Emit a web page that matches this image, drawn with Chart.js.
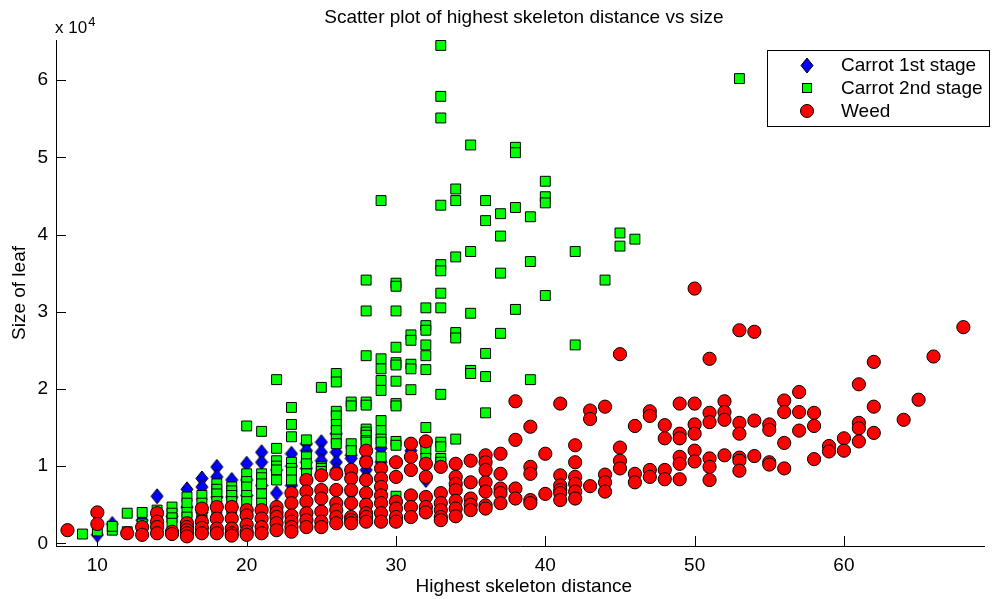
<!DOCTYPE html>
<html>
<head>
<meta charset="utf-8">
<title>Scatter plot of highest skeleton distance vs size</title>
<script src="https://cdn.jsdelivr.net/npm/chart.js@4.4.1/dist/chart.umd.min.js"></script>
<style>
    html, body { margin: 0; padding: 0; background: #fff; overflow: hidden; }
    #quadro { width: 992px; height: 599px; position: relative; }
</style>
</head>
<body>
<div id="quadro"><canvas id="grafico"></canvas></div>
<script>
const titulo = 'Scatter plot of highest skeleton distance vs size';
const rotuloX = 'Highest skeleton distance';
const rotuloY = 'Size of leaf';
const nomesSeries = ['Carrot 1st stage', 'Carrot 2nd stage', 'Weed'];
const ticksX = [10, 20, 30, 40, 50, 60];
const ticksY = [0, 10000, 20000, 30000, 40000, 50000, 60000];
const expoenteY = 4;
// limites do eixo x completo; a figura corta o lado direito
const limitesX = [7.23, 69.9];

// [distancia, tamanho]
const cenoura1 = [
    [10, 1100], [11, 2500], [13, 3000], [14, 6100], [15, 3500],
    [16, 7000], [16, 4700], [17, 8400], [17, 7300], [17, 4000],
    [18, 9900], [18, 8600], [18, 6000], [19, 8200], [19, 6000],
    [20, 10300], [20, 8200], [20, 6200], [21, 11800], [21, 10500], [21, 7500],
    [22, 6500], [22, 9500], [23, 11600], [23, 10000], [23, 7500],
    [24, 12900], [24, 12000], [24, 10500], [24, 9700],
    [25, 13100], [25, 11800], [25, 10700],
    [26, 14200], [26, 11800], [26, 10500], [26, 9500],
    [27, 11400], [27, 11000], [27, 9000], [27, 6500],
    [28, 11000], [28, 9500], [28, 8600], [28, 8200],
    [29, 12300], [29, 10500], [31, 12000], [32, 8200]
];

const cenoura2 = [
    [9, 1200], [10, 1600], [11, 1700], [11, 2200], [12, 3900], [12, 1500],
    [13, 4000], [13, 2500], [14, 4300], [14, 3000],
    [15, 4700], [15, 3900], [15, 3300], [15, 2600],
    [16, 6000], [16, 5200], [16, 4000], [16, 3400],
    [17, 6200], [17, 5200], [17, 4000], [17, 3000],
    [18, 7700], [18, 7000], [18, 6400], [18, 5400], [18, 4200],
    [19, 7300], [19, 6800], [19, 6200], [19, 5400], [19, 4500],
    [20, 15200], [20, 9000], [20, 8000], [20, 7300], [20, 6200], [20, 5400],
    [21, 14500], [21, 9000], [21, 8500], [21, 7700], [21, 6400], [21, 5200],
    [22, 21200], [22, 12300], [22, 10700], [22, 10000], [22, 9500], [22, 8200],
    [23, 17600], [23, 15400], [23, 13800], [23, 10500], [23, 9700], [23, 9200], [23, 8200],
    [24, 13400], [24, 11300], [24, 11200], [24, 10300], [24, 9000],
    [25, 20200], [25, 9900], [25, 9700], [25, 9300],
    [26, 22000], [26, 20900], [26, 17100], [26, 16500], [26, 15400], [26, 14600], [26, 13500], [26, 12900],
    [27, 18300], [27, 17800], [27, 12900], [27, 12000],
    [28, 34100], [28, 30100], [28, 24300], [28, 18300], [28, 17900], [28, 14800], [28, 14400], [28, 14000], [28, 13300], [28, 13100],
    [29, 44400], [29, 23900], [29, 22600], [29, 21100], [29, 19800], [29, 15900], [29, 14600], [29, 13500], [29, 13100], [29, 11200],
    [30, 33700], [30, 33300], [30, 30100], [30, 25400], [30, 23400], [30, 23100], [30, 21000], [30, 18100], [30, 17800], [30, 13200], [30, 12700], [30, 6100],
    [31, 27000], [31, 26300], [31, 23200], [31, 22600], [31, 19900],
    [32, 30500], [32, 28200], [32, 27600], [32, 25700], [32, 24300], [32, 22500], [32, 15000], [32, 13100], [32, 12100], [32, 11000],
    [33, 64500], [33, 57900], [33, 55100], [33, 43800], [33, 36100], [33, 35300], [33, 32400], [33, 30500], [33, 19300], [33, 13100], [33, 12500], [33, 11000], [33, 10500],
    [34, 45900], [34, 44400], [34, 37100], [34, 27300], [34, 26600], [34, 13500],
    [35, 51600], [35, 37800], [35, 29800], [35, 22400], [35, 22000],
    [36, 44400], [36, 41800], [36, 24600], [36, 21600], [36, 16900],
    [37, 42700], [37, 39800], [37, 35000], [37, 27200],
    [38, 51300], [38, 50600], [38, 43500], [38, 30300],
    [39, 42300], [39, 36500], [39, 21200],
    [40, 46900], [40, 44900], [40, 44100], [40, 32100],
    [42, 37800], [42, 25700], [44, 34100], [45, 40200], [45, 38500], [46, 39400],
    [53, 60200]
];

const erva = [
    [8, 1700], [10, 4000], [10, 2500], [12, 1300], [13, 2100], [13, 1100],
    [14, 3900], [14, 2800], [14, 2100], [14, 1300], [15, 1500], [15, 1200],
    [16, 2600], [16, 2100], [16, 1700], [16, 1300], [16, 900],
    [17, 4500], [17, 2800], [17, 2000], [17, 1300],
    [18, 4700], [18, 3200], [18, 1900], [18, 1300],
    [19, 4700], [19, 3200], [19, 1900], [19, 1300], [19, 1000],
    [20, 4300], [20, 3600], [20, 2400], [20, 1500], [20, 1100],
    [21, 4300], [21, 3200], [21, 2100], [21, 1300],
    [22, 4700], [22, 4000], [22, 3400], [22, 2600], [22, 1700],
    [23, 6500], [23, 5200], [23, 3600], [23, 2800], [23, 2100], [23, 1500],
    [24, 8200], [24, 6700], [24, 5400], [24, 3900], [24, 3000], [24, 2100],
    [25, 8800], [25, 6900], [25, 5800], [25, 4100], [25, 2800], [25, 2100],
    [26, 9000], [26, 6900], [26, 5200], [26, 4300], [26, 3400], [26, 2600],
    [27, 9500], [27, 8400], [27, 6900], [27, 5200], [27, 3400], [27, 3000], [27, 2600],
    [28, 12000], [28, 10500], [28, 8200], [28, 6500], [28, 5000], [28, 3900], [28, 3400], [28, 2800],
    [29, 9700], [29, 8400], [29, 7300], [29, 6200], [29, 5200], [29, 3900], [29, 2800],
    [30, 10500], [30, 8600], [30, 5400], [30, 4500], [30, 3400], [30, 2800],
    [31, 12900], [31, 11200], [31, 9500], [31, 6200], [31, 4700], [31, 3400],
    [32, 13200], [32, 10300], [32, 8600], [32, 6000], [32, 4700], [32, 4000],
    [33, 9900], [33, 6500], [33, 5200], [33, 4300], [33, 3400], [33, 3000],
    [34, 10300], [34, 8600], [34, 7700], [34, 6900], [34, 5500], [34, 4500], [34, 3500],
    [35, 10700], [35, 7900], [35, 5800], [35, 5000], [35, 4300],
    [36, 11400], [36, 10500], [36, 9500], [36, 7900], [36, 6700], [36, 4900], [36, 4500],
    [37, 11600], [37, 9000], [37, 7100], [37, 6500], [37, 5200],
    [38, 18400], [38, 13400], [38, 7100], [38, 5800],
    [39, 15100], [39, 9900], [39, 9000], [39, 5600], [39, 5200],
    [40, 11600], [40, 6400],
    [41, 18100], [41, 8800], [41, 7500], [41, 6900], [41, 6500], [41, 5600],
    [42, 12700], [42, 10500], [42, 8600], [42, 7700], [42, 6700], [42, 5800],
    [43, 17200], [43, 16100], [43, 7400],
    [44, 17700], [44, 8900], [44, 7900], [44, 6700],
    [45, 24500], [45, 12400], [45, 10700], [45, 9700],
    [46, 15200], [46, 9000], [46, 7900],
    [47, 17100], [47, 16500], [47, 9500], [47, 8600],
    [48, 15300], [48, 13600], [48, 9500], [48, 8300],
    [49, 18100], [49, 14200], [49, 13600], [49, 11200], [49, 10300], [49, 8300],
    [50, 33000], [50, 18100], [50, 15400], [50, 14200], [50, 12000], [50, 10600],
    [51, 23900], [51, 16900], [51, 15700], [51, 11000], [51, 9900], [51, 8200],
    [52, 18400], [52, 17000], [52, 16000], [52, 11400],
    [53, 27600], [53, 15600], [53, 14200], [53, 11100], [53, 10700], [53, 9400],
    [54, 27400], [54, 15900], [54, 11300],
    [55, 15400], [55, 14700], [55, 10500], [55, 10200],
    [56, 18500], [56, 17000], [56, 13000], [56, 9700],
    [57, 19600], [57, 17000], [57, 14600],
    [58, 16900], [58, 15200], [58, 10900],
    [59, 12600], [59, 11900], [60, 13600], [60, 12000],
    [61, 20600], [61, 15600], [61, 14900], [61, 13200],
    [62, 23500], [62, 17700], [62, 14300],
    [64, 16000], [65, 18600], [66, 24200], [68, 28000]
];

const cores = ['#0000ff', '#00ff00', '#ff0000'];
const fonte = "'Liberation Sans', Arial, Helvetica, sans-serif";
const tamFonte = 19;

// losango mais alto que largo, como o marcador 'd'
function criarLosango(largura, altura, cor) {
    const c = document.createElement('canvas');
    c.width = largura + 2;
    c.height = altura + 2;
    const g = c.getContext('2d');
    g.beginPath();
    g.moveTo(c.width / 2, 1);
    g.lineTo(c.width - 1, c.height / 2);
    g.lineTo(c.width / 2, c.height - 1);
    g.lineTo(1, c.height / 2);
    g.closePath();
    g.fillStyle = cor;
    g.fill();
    g.lineWidth = 1;
    g.strokeStyle = '#000';
    g.stroke();
    return c;
}

const losango = criarLosango(12, 15, cores[0]);

const paraPontos = lista => lista.map(([x, y]) => ({ x, y }));

// ticks para dentro, titulos centrados no eixo completo, expoente e legenda com caixa
const eixosMatlab = {
    id: 'eixosMatlab',
    beforeDatasetsDraw(chart) {
        const { ctx, chartArea: a, scales: { x, y } } = chart;
        ctx.save();
        ctx.strokeStyle = '#000';
        ctx.lineWidth = 1;
        ctx.beginPath();
        x.ticks.forEach(t => {
            const px = Math.round(x.getPixelForValue(t.value)) + 0.5;
            ctx.moveTo(px, a.bottom);
            ctx.lineTo(px, a.bottom - 10);
        });
        y.ticks.forEach(t => {
            const py = Math.round(y.getPixelForValue(t.value)) + 0.5;
            ctx.moveTo(a.left, py);
            ctx.lineTo(a.left + 10, py);
        });
        ctx.stroke();
        ctx.restore();
    },
    afterDraw(chart) {
        const { ctx, chartArea: a, scales: { x } } = chart;
        const centro = (x.getPixelForValue(limitesX[0]) + x.getPixelForValue(limitesX[1])) / 2;
        ctx.save();
        ctx.fillStyle = '#000';

        ctx.font = tamFonte + 'px ' + fonte;
        ctx.textAlign = 'center';
        ctx.textBaseline = 'middle';
        ctx.fillText(titulo, centro, 18);
        ctx.fillText(rotuloX, centro, 587);

        ctx.textAlign = 'left';
        ctx.textBaseline = 'alphabetic';
        ctx.font = '17px ' + fonte;
        ctx.fillText('x 10', a.left - 1, 33);
        const w = ctx.measureText('x 10').width;
        ctx.font = '13px ' + fonte;
        ctx.fillText(String(expoenteY), a.left + w, 26);

        // legenda
        const caixa = { x: 767, y: 50, w: 222, h: 76 };
        ctx.fillStyle = '#fff';
        ctx.fillRect(caixa.x, caixa.y, caixa.w, caixa.h);
        ctx.strokeStyle = '#000';
        ctx.lineWidth = 1;
        ctx.strokeRect(caixa.x + 0.5, caixa.y + 0.5, caixa.w, caixa.h);

        const linhas = [65, 88, 111];
        const mx = 807;
        ctx.font = tamFonte + 'px ' + fonte;
        ctx.textBaseline = 'middle';
        nomesSeries.forEach((nome, i) => {
            const my = linhas[i];
            ctx.fillStyle = cores[i];
            if (i === 0) {
                ctx.drawImage(losango, Math.round(mx - losango.width / 2), Math.round(my - losango.height / 2));
            } else if (i === 1) {
                ctx.fillRect(mx - 5, my - 5, 10, 10);
                ctx.strokeRect(mx - 4.5, my - 4.5, 9, 9);
            } else {
                ctx.beginPath();
                ctx.arc(mx, my, 6.5, 0, Math.PI * 2);
                ctx.fill();
                ctx.stroke();
            }
            ctx.fillStyle = '#000';
            ctx.fillText(nome, 841, my + 1);
        });
        ctx.restore();
    }
};

Chart.defaults.font.family = fonte;
Chart.defaults.color = '#000';

new Chart(document.getElementById('grafico'), {
    type: 'scatter',
    data: {
        datasets: [
            {
                label: nomesSeries[0],
                data: paraPontos(cenoura1),
                pointStyle: losango,
                pointRadius: 7,
                backgroundColor: cores[0],
                borderColor: '#000',
                borderWidth: 1,
                order: 3
            },
            {
                label: nomesSeries[1],
                data: paraPontos(cenoura2),
                pointStyle: 'rect',
                pointRadius: 7,
                backgroundColor: cores[1],
                borderColor: '#000',
                borderWidth: 1,
                order: 2
            },
            {
                label: nomesSeries[2],
                data: paraPontos(erva),
                pointStyle: 'circle',
                pointRadius: 6.6,
                backgroundColor: cores[2],
                borderColor: '#000',
                borderWidth: 1,
                order: 1
            }
        ]
    },
    options: {
        responsive: true,
        maintainAspectRatio: false,
        animation: false,
        events: [],
        layout: { padding: { top: 40, right: 0, left: 0, bottom: 0 } },
        plugins: {
            legend: { display: false },
            tooltip: { enabled: false },
            title: { display: false }
        },
        scales: {
            x: {
                type: 'linear',
                min: limitesX[0],
                max: 69.38,
                afterBuildTicks: s => { s.ticks = ticksX.map(v => ({ value: v })); },
                afterFit: s => { s.height = 53; },
                grid: { display: true, drawOnChartArea: false, drawTicks: false },
                border: { display: true, color: '#000', width: 1 },
                ticks: { font: { size: tamFonte }, padding: 8, color: '#000' },
                title: { display: false, text: rotuloX }
            },
            y: {
                type: 'linear',
                min: -350,
                max: 65200,
                afterBuildTicks: s => { s.ticks = ticksY.map(v => ({ value: v })); },
                afterFit: s => { s.width = 56; },
                grid: { display: true, drawOnChartArea: false, drawTicks: false },
                border: { display: true, color: '#000', width: 1 },
                ticks: {
                    font: { size: tamFonte },
                    padding: 8,
                    color: '#000',
                    callback: v => String(v / Math.pow(10, expoenteY))
                },
                title: { display: true, text: rotuloY, font: { size: tamFonte }, padding: { top: 8, bottom: 0 }, color: '#000' }
            }
        }
    },
    plugins: [eixosMatlab]
});
</script>
</body>
</html>
